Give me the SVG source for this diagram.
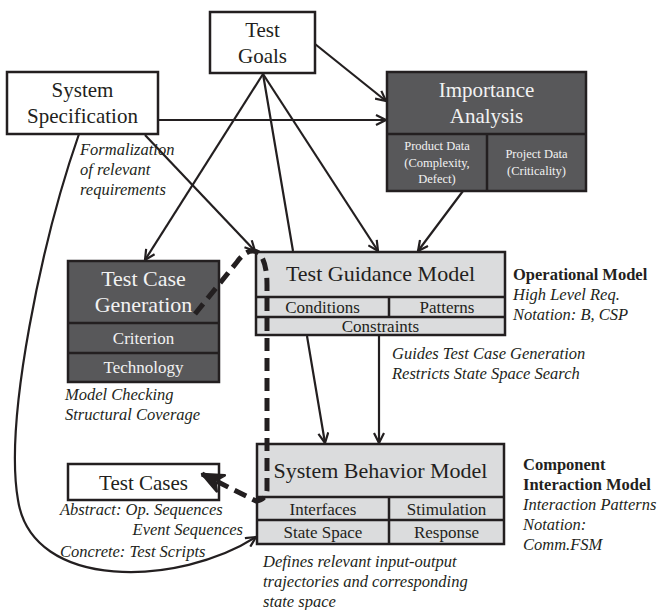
<svg xmlns="http://www.w3.org/2000/svg" width="664" height="610" viewBox="0 0 664 610">
  <style>
    .box { stroke: #231f20; stroke-width: 2.5; }
    .plain { fill: #ffffff; }
    .dark { fill: #58585a; }
    .light { fill: #dbdcdd; }
    .div { stroke: #231f20; stroke-width: 2.5; fill: none; }
    text { font-family: 'Liberation Serif', 'DejaVu Serif', serif; }
    .t { fill: #231f20; text-anchor: middle; }
    .big { font-size: 21px; }
    .model { font-size: 22px; }
    .sub { font-size: 17px; }
    .small { font-size: 12.5px; }
    .inv { fill: #f2f2f2; }
    .note { font-style: italic; font-size: 16.5px; fill: #231f20; }
    .head { font-weight: bold; font-size: 16.5px; fill: #231f20; }
    .link { stroke: #231f20; stroke-width: 2.2; fill: none; }
    .dash { stroke: #231f20; stroke-width: 5; fill: none; stroke-dasharray: 13 7; }
  </style>
  <defs>
    <marker id="arrow" viewBox="0 0 12 12" refX="11" refY="6" markerWidth="12" markerHeight="12" markerUnits="userSpaceOnUse" orient="auto">
      <path d="M1,1 L11,6 L1,11" stroke="#231f20" stroke-width="2.2" fill="none"/>
    </marker>
    <marker id="bold-arrow" viewBox="0 0 26 22" refX="24" refY="11" markerWidth="26" markerHeight="22" markerUnits="userSpaceOnUse" orient="auto">
      <path d="M3,2 L24,11 L3,20 L9,11 Z" fill="#231f20" stroke="#231f20" stroke-width="2.5" stroke-linejoin="round"/>
    </marker>
  </defs>

  <!-- nodes -->
  <g id="test-goals">
    <rect class="box plain" x="210" y="12" width="105" height="61"/>
    <text class="t big" x="262.5" y="37">Test</text>
    <text class="t big" x="262.5" y="63">Goals</text>
  </g>

  <g id="system-specification">
    <rect class="box plain" x="7" y="72" width="151" height="62"/>
    <text class="t big" x="82.5" y="97">System</text>
    <text class="t big" x="82.5" y="123">Specification</text>
  </g>

  <g id="importance-analysis">
    <rect class="box dark" x="387" y="72" width="199" height="119"/>
    <path class="div" d="M387,134 H586 M487,134 V191"/>
    <text class="t big inv" x="486.5" y="97">Importance</text>
    <text class="t big inv" x="486.5" y="123">Analysis</text>
    <text class="t small inv" x="437" y="150">Product Data</text>
    <text class="t small inv" x="437" y="167">(Complexity,</text>
    <text class="t small inv" x="437" y="183">Defect)</text>
    <text class="t small inv" x="536.5" y="158">Project Data</text>
    <text class="t small inv" x="536.5" y="175">(Criticality)</text>
  </g>

  <g id="test-case-generation">
    <rect class="box dark" x="68" y="261" width="151" height="121"/>
    <path class="div" d="M68,323 H219 M68,353 H219"/>
    <text class="t model inv" x="143.5" y="286">Test Case</text>
    <text class="t model inv" x="143.5" y="312">Generation</text>
    <text class="t sub inv" x="143.5" y="344">Criterion</text>
    <text class="t sub inv" x="143.5" y="373">Technology</text>
  </g>

  <g id="test-guidance-model">
    <rect class="box light" x="256" y="252" width="249" height="83"/>
    <path class="div" d="M256,297 H505 M256,317 H505 M389,297 V317"/>
    <text class="t model" x="380.5" y="281">Test Guidance Model</text>
    <text class="t sub" x="322.5" y="313">Conditions</text>
    <text class="t sub" x="447" y="313">Patterns</text>
    <text class="t sub" x="380.5" y="332">Constraints</text>
  </g>

  <g id="system-behavior-model">
    <rect class="box light" x="257" y="444" width="247" height="100"/>
    <path class="div" d="M257,497 H504 M257,520 H504 M389,497 V544"/>
    <text class="t model" x="380.5" y="478">System Behavior Model</text>
    <text class="t sub" x="323" y="515">Interfaces</text>
    <text class="t sub" x="446.5" y="515">Stimulation</text>
    <text class="t sub" x="323" y="538">State Space</text>
    <text class="t sub" x="446.5" y="538">Response</text>
  </g>

  <g id="test-cases">
    <rect class="box plain" x="68" y="464" width="151" height="36"/>
    <text class="t big" x="143.5" y="490">Test Cases</text>
  </g>

  <!-- annotations -->
  <g id="annotations">
    <text class="note" x="80" y="155">Formalization</text>
    <text class="note" x="80" y="175">of relevant</text>
    <text class="note" x="80" y="195">requirements</text>

    <text class="note" x="65" y="400">Model Checking</text>
    <text class="note" x="65" y="420">Structural Coverage</text>

    <text class="head" x="513" y="280">Operational Model</text>
    <text class="note" x="513" y="300">High Level Req.</text>
    <text class="note" x="513" y="320">Notation: B, CSP</text>

    <text class="note" x="392" y="359">Guides Test Case Generation</text>
    <text class="note" x="392" y="379">Restricts  State Space Search</text>

    <text class="head" x="523" y="470">Component</text>
    <text class="head" x="523" y="490">Interaction Model</text>
    <text class="note" x="523" y="510">Interaction Patterns</text>
    <text class="note" x="523" y="530">Notation:</text>
    <text class="note" x="523" y="550">Comm.FSM</text>

    <text class="note" x="60" y="515">Abstract: Op. Sequences</text>
    <text class="note" x="243" y="535" text-anchor="end">Event Sequences</text>
    <text class="note" x="60" y="557">Concrete: Test Scripts</text>

    <text class="note" x="263" y="567">Defines relevant input-output</text>
    <text class="note" x="263" y="587">trajectories  and corresponding</text>
    <text class="note" x="263" y="607">state space</text>
  </g>

  <!-- connectors -->
  <g id="connectors">
    <path class="link" d="M315,44 L386,101" marker-end="url(#arrow)"/>
    <path class="link" d="M158,120 L386,120" marker-end="url(#arrow)"/>
    <path class="link" d="M263,74 L145,260" marker-end="url(#arrow)"/>
    <path class="link" d="M263,74 L293,251 M307,336 L325,443" marker-end="url(#arrow)"/>
    <path class="link" d="M263,74 L378,251" marker-end="url(#arrow)"/>
    <path class="link" d="M463,191 L418,251" marker-end="url(#arrow)"/>
    <path class="link" d="M145,135 L255,251" marker-end="url(#arrow)"/>
    <path class="link" d="M379,336 L379,443" marker-end="url(#arrow)"/>
    <path class="link" d="M79,134 C42,240 4,420 18,500 C32,592 180,586 256,537" marker-end="url(#arrow)"/>
    <path class="dash" d="M195,314 L237,262 Q249,246 259,253 Q267,262 267,285 L267,490 Q266,500 256,501 L202,474" marker-end="url(#bold-arrow)"/>
  </g>
</svg>
